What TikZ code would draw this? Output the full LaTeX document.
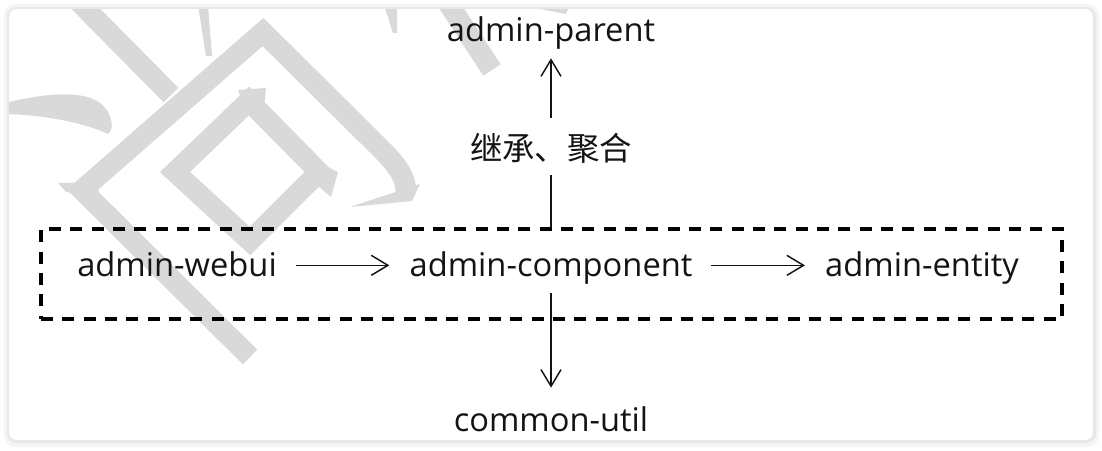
\documentclass[tikz,border=0pt]{standalone}
\usepackage{fontspec}
\setmainfont{Open Sans}
\newfontfamily\cjk{Noto Sans CJK SC}
\usetikzlibrary{arrows.meta}

\definecolor{wmgray}{RGB}{217,217,217}
\definecolor{txt}{RGB}{20,20,20}

\begin{document}
\begin{tikzpicture}[x=0.75pt, y=-0.75pt,
    >={Straight Barb[length=12.5pt, width=15pt]},
    mod/.style={inner sep=0pt, anchor=base, text=txt, text height=19pt, text depth=3pt,
      font=\fontsize{24.5pt}{29pt}\selectfont},
    link/.style={->, line width=1.1pt, draw=txt},
    group/.style={draw=black, dashed, line width=2.7pt, dash pattern=on 9pt off 7pt,
      inner sep=0pt, minimum width=765.75pt, minimum height=67.5pt}]
    \useasboundingbox (0,0) rectangle (1102,450);

    % 卡片与阴影
    \fill[white] (0,0) rectangle (1102,450);
    \fill[black!4, rounded corners=9pt] (4,4) rectangle (1099,447);
    \fill[black!9, rounded corners=7pt] (7,7) rectangle (1096,443);
    \fill[white, rounded corners=6pt] (9,9) rectangle (1093,440);

    % 水印
    \begin{scope}
      \clip[rounded corners=6pt] (9,9) rectangle (1093,440);
      \begin{scope}[wmgray, line width=15.5pt, line join=miter]
        \draw (77,0) -- (171,95);
        \draw (250,357) -- (82,190) -- (263,32) -- (382,150)
          .. controls (398,166) and (406,178) .. (406,192);
        \draw (249,101) -- (175,172) -- (250,241) -- (319,172) -- cycle;
        \draw (446,0) -- (492,70);
        \fill (198,5) -- (208,5) -- (212,56) -- (206,56) -- cycle;
        \fill (384,5) -- (397,5) -- (397,33) -- (393,33) -- cycle;
        \fill (540,9) -- (568,9) -- (566,14) -- cycle;
        \fill (238,90) -- (266,88) -- (264,108) -- (244,108) -- cycle;
        \fill (314,160) -- (338,172) -- (331,197) -- (318,186) -- cycle;
        \fill (420,184) -- (412,201) -- (350,207) -- cycle;
        \fill (58,183) -- (96,182) -- (100,196) -- (66,192) -- cycle;
        \fill (5,103) .. controls (50,92) and (95,88) .. (108,112)
          .. controls (113,122) and (113,130) .. (108,134)
          .. controls (90,125) and (50,115) .. (5,114) -- cycle;
      \end{scope}
    \end{scope}

    % 模块
    \node[group] (box) at (551.5,274) {};
    \node[mod] (webui) at (177,276) {admin-webui};
    \node[mod] (comp) at (551,276) {admin-component};
    \node[mod] (entity) at (922,276) {admin-entity};
    \node[mod] (parent) at (551,41) {admin-parent};
    \node[mod] (util) at (551,431) {common-util};
    \node[inner sep=0pt, text=txt, text height=22pt, text depth=3pt,
      font=\cjk\fontsize{24.3pt}{29pt}\selectfont] (rel) at (551,148) {继承、聚合};

    % 依赖关系
    \draw[link, shorten <=13.9pt, shorten >=15pt] (webui) -- (comp);
    \draw[link, shorten <=14pt, shorten >=15pt] (comp) -- (entity);
    \draw[link, shorten <=9.75pt, shorten >=13.3pt] (comp.south) -- (util.north);
    \draw[line width=1.1pt, draw=txt, shorten >=7.7pt] (box.north -| rel) -- (rel.south);
    \draw[link, shorten <=10pt, shorten >=9.75pt] (rel.north) -- (parent.south);
\end{tikzpicture}
\end{document}
